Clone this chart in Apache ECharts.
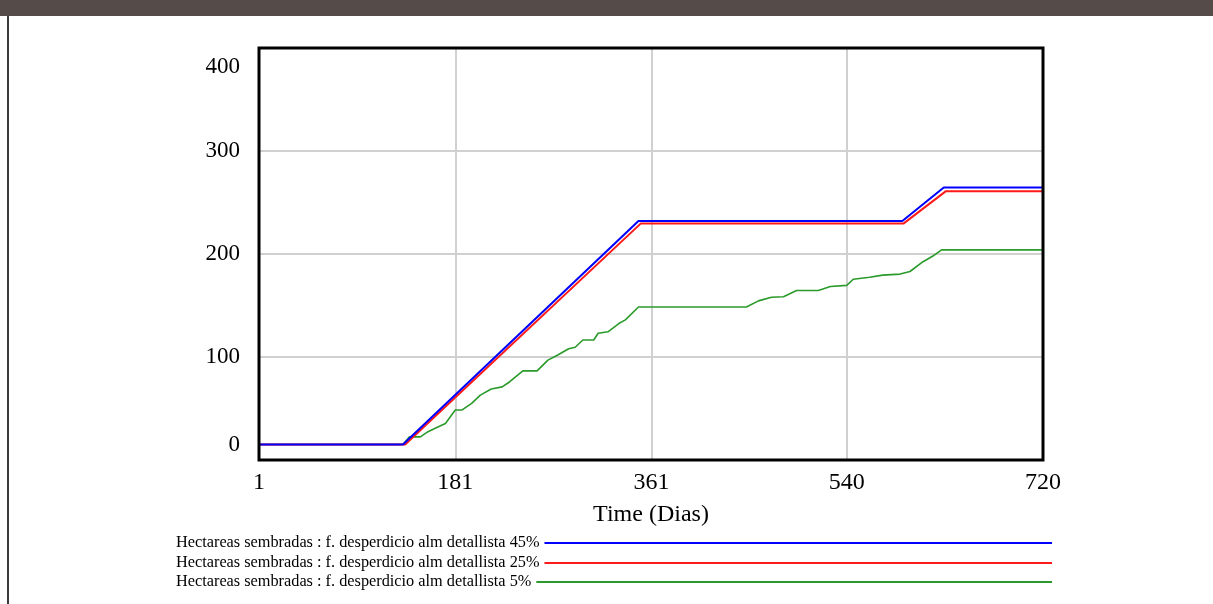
<!DOCTYPE html>
<html>
<head>
<meta charset="utf-8">
<script src="https://cdn.jsdelivr.net/npm/echarts@6/dist/echarts.min.js"></script>
<style>
html,body{margin:0;padding:0;background:#fff;}
#chart{width:1213px;height:604px;}
</style>
</head>
<body>
<div id="chart"></div>
<script>
// ---- data ----
const xTickLabels = [1, 181, 361, 540, 720];
const yTickLabels = [0, 100, 200, 300, 400];
const seriesNames = [
  'Hectareas sembradas : f. desperdicio alm detallista 45%',
  'Hectareas sembradas : f. desperdicio alm detallista 25%',
  'Hectareas sembradas : f. desperdicio alm detallista 5%'
];
const days45 = [1, 133, 349, 591, 629, 720];
const vals45 = [15, 15, 232, 232, 264.5, 264.5];
const days25 = [1, 135, 351, 592, 631, 720];
const vals25 = [15, 15, 229.5, 229.5, 261, 261];
const days5 = [1, 133, 139, 149, 156, 165, 172, 181, 187, 196, 204, 214, 224, 231, 243, 256, 266, 275, 285, 291, 298, 308, 312, 321, 331, 337, 349, 448, 459, 471, 482, 494, 514, 525, 540, 546, 561, 573, 589, 598, 610, 619, 627, 720];
const vals5 = [15, 15, 22.5, 22.5, 27.5, 32, 35.5, 48.5, 48.5, 55, 63, 69, 71, 76, 86.5, 86.5, 97, 102, 108, 109.5, 116.5, 116.5, 123, 124.5, 132.5, 136, 148.5, 148.5, 154.5, 158, 158.5, 164.5, 164.5, 168.5, 169.5, 175.5, 177.5, 179.5, 180.5, 183, 192.5, 198, 204, 204];

const colors = ['#0000ff', '#ff1a1a', '#2a9a2a'];
const widths = [2, 2, 1.6];
const serif = '"Liberation Serif", "Times New Roman", serif';

function pairs(d, v) { return d.map((x, i) => [x, v[i]]); }

// legend geometry
const legendFont = 16.3;
const legendLeft = 176;
const legendLineEnd = 1052;
const legendRows = [535, 555, 574];
const ctx = document.createElement('canvas').getContext('2d');
ctx.font = legendFont + 'px ' + serif;

const legends = seriesNames.map((name, i) => {
  const w = ctx.measureText(name).width;
  return {
    data: [name],
    left: legendLeft,
    top: legendRows[i],
    align: 'right',
    icon: 'rect',
    itemWidth: Math.max(50, legendLineEnd - legendLeft - 5 - w),
    itemHeight: 2,
    selectedMode: false,
    padding: 0,
    textStyle: { fontFamily: serif, fontSize: legendFont, color: '#000' }
  };
});

const chart = echarts.init(document.getElementById('chart'), null, { renderer: 'canvas' });
const lineData = [pairs(days45, vals45), pairs(days25, vals25), pairs(days5, vals5)];
// draw order: green, red, blue on top
const order = [2, 1, 0];

chart.setOption({
  animation: false,
  backgroundColor: '#fff',
  graphic: [
    { type: 'rect', shape: { x: 0, y: 0, width: 1213, height: 16 }, style: { fill: '#554b48' }, z: 100 },
    { type: 'rect', shape: { x: 7, y: 16, width: 2, height: 588 }, style: { fill: '#3a3a3a' }, z: 100 }
  ],
  legend: legends,
  grid: {
    left: 259, right: 170, top: 48, bottom: 144,
    show: true, borderColor: '#000', borderWidth: 3, backgroundColor: 'transparent', z: 10
  },
  xAxis: {
    type: 'value', min: 1, max: 720,
    axisLine: { show: false },
    axisTick: { show: false, customValues: xTickLabels },
    axisLabel: { customValues: xTickLabels, fontFamily: serif, fontSize: 24, color: '#000', margin: 11 },
    splitLine: { show: true, lineStyle: { color: '#d0d0d0', width: 2 } },
    name: 'Time (Dias)', nameLocation: 'middle', nameGap: 43,
    nameTextStyle: { fontFamily: serif, fontSize: 24, color: '#000' }
  },
  yAxis: {
    type: 'value', min: 0, max: 400, interval: 100,
    axisLine: { show: false },
    axisTick: { show: false },
    axisLabel: {
      fontFamily: serif, fontSize: 23, color: '#000', margin: 19,
      formatter: function (v) {
        if (v === 400) return '{t|' + v + '}';
        if (v === 0) return '{b|' + v + '}';
        return '{n|' + v + '}';
      },
      rich: {
        t: { fontFamily: serif, fontSize: 23, color: '#000', padding: [38, 0, 0, 0] },
        b: { fontFamily: serif, fontSize: 23, color: '#000', padding: [0, 0, 30, 0] },
        n: { fontFamily: serif, fontSize: 23, color: '#000' }
      }
    },
    splitLine: { show: true, lineStyle: { color: '#d0d0d0', width: 2 } }
  },
  series: order.map(i => ({
    name: seriesNames[i],
    type: 'line',
    data: lineData[i],
    showSymbol: false,
    symbol: 'none',
    color: colors[i],
    lineStyle: { color: colors[i], width: widths[i] },
    z: 3 + (2 - i)
  }))
});
</script>
</body>
</html>
